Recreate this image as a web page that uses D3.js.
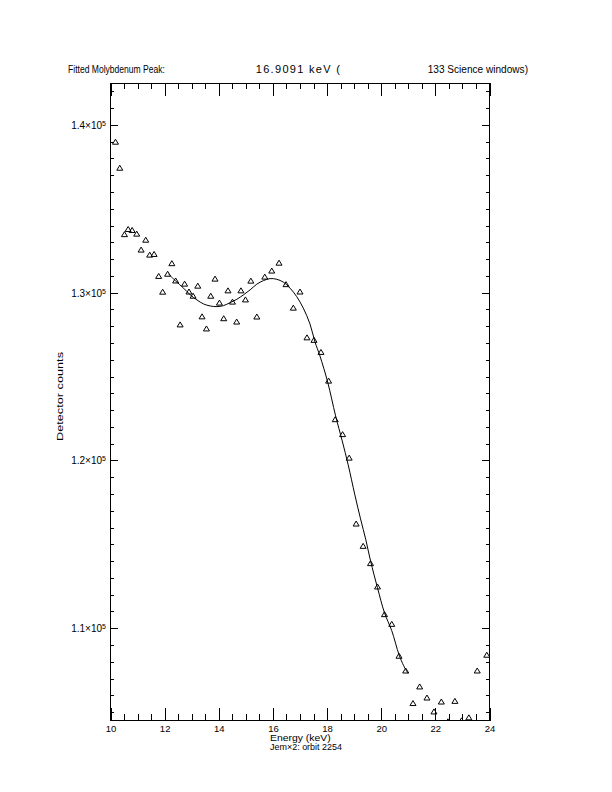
<!DOCTYPE html>
<html>
<head>
<meta charset="utf-8">
<script src="https://cdn.jsdelivr.net/npm/d3@7.9.0/dist/d3.min.js"></script>
<style>
  html, body { margin: 0; padding: 0; background: #fff; }
  svg { display: block; }
  text { font-family: "Liberation Sans", Arial, sans-serif; fill: #000; }
</style>
</head>
<body>
<svg id="chart" width="612" height="792"></svg>
<script>
// measured points (keV, detector counts)
const energy = [10.184, 10.343, 10.516, 10.652, 10.799, 10.969, 11.131, 11.301, 11.448, 11.610,
  11.780, 11.927, 12.111, 12.266, 12.406, 12.572, 12.737, 12.899, 13.051, 13.224,
  13.382, 13.544, 13.703, 13.861, 14.023, 14.182, 14.340, 14.506, 14.661, 14.819,
  14.985, 15.184, 15.405, 15.699, 15.957, 16.226, 16.484, 16.753, 17.000, 17.258,
  17.516, 17.774, 18.057, 18.301, 18.573, 18.816, 19.074, 19.332, 19.605, 19.863,
  20.121, 20.390, 20.658, 20.905, 21.174, 21.421, 21.690, 21.948, 22.221, 22.464,
  22.722, 22.968, 23.237, 23.547, 23.900];
const counts = [139000, 137450, 133490, 133800, 133740, 133520, 132570, 133160, 132270, 132310,
  131000, 130060, 131130, 131760, 130730, 128110, 130540, 130070, 129820, 130420,
  128590, 127870, 129820, 130840, 129410, 128480, 130140, 129470, 128280, 130140,
  129600, 130720, 128580, 130960, 131320, 131790, 130510, 129110, 130070, 127340,
  127190, 126470, 124760, 122460, 121570, 120170, 116240, 114910, 113880, 112490,
  110840, 110260, 108360, 107480, 105540, 106530, 105870, 105040, 105630, 104450,
  105670, 104510, 104690, 107480, 108420];

// fitted curve
const fitEnergy = [12.155, 12.406, 12.700, 12.947, 13.194, 13.437, 13.684, 13.931, 14.174, 14.421,
  14.668, 14.911, 15.158, 15.405, 15.648, 15.895, 16.142, 16.385, 16.632, 16.878,
  17.122, 17.368, 17.553, 17.737, 18.021, 18.315, 18.559, 18.780, 19.026, 19.236,
  19.432, 19.605, 19.863, 20.121, 20.390, 20.658, 20.831, 20.990];
const fitCounts = [131090, 130700, 130270, 129870, 129570, 129330, 129210, 129170, 129230, 129410,
  129610, 129870, 130170, 130510, 130720, 130840, 130800, 130630, 130270, 129770,
  129080, 128140, 127070, 126230, 124680, 122660, 121170, 119740, 117950, 116520,
  115270, 114020, 112410, 110920, 109850, 108420, 107760, 107310];

const xTicks = [10, 12, 14, 16, 18, 20, 22, 24];
const yTicks = [110000, 120000, 130000, 140000];
const yTickLabels = ["1.1", "1.2", "1.3", "1.4"];

const plotLeft = 110.5, plotRight = 489.5, plotTop = 83, plotBottom = 720.5;

const x = d3.scaleLinear().domain([10, 24]).range([plotLeft, plotRight]);
const y = d3.scaleLinear().domain([104500, 142500]).range([plotBottom, plotTop]);

const svg = d3.select('#chart');
svg.append('rect').attr('width', 612).attr('height', 792).attr('fill', '#fff');

svg.append('clipPath').attr('id', 'plotClip')
  .append('rect')
  .attr('x', plotLeft).attr('y', plotTop)
  .attr('width', plotRight - plotLeft).attr('height', plotBottom - plotTop);

const xMinor = d3.range(10, 24.001, 0.5).filter(v => v % 2 !== 0);
const yMinor = d3.range(105000, 142001, 1000).filter(v => v % 10000 !== 0);

function drawAxis(axis, tx, ty) {
  const g = svg.append('g')
    .attr('transform', `translate(${tx},${ty})`)
    .attr('shape-rendering', 'crispEdges')
    .call(axis);
  g.select('.domain').remove();
  return g;
}

// bottom axis
const xb = drawAxis(d3.axisBottom(x).tickValues(xTicks).tickSizeInner(-12.7).tickSizeOuter(0)
  .tickPadding(4.5).tickFormat(d3.format('d')), 0, plotBottom);
xb.selectAll('text').attr('font-size', 9.5).attr('font-family', null);
drawAxis(d3.axisBottom(x).tickValues(xMinor).tickSizeInner(-6.3).tickSizeOuter(0).tickFormat(''), 0, plotBottom);

// top axis
drawAxis(d3.axisTop(x).tickValues(xTicks).tickSizeInner(-12.7).tickSizeOuter(0).tickFormat(''), 0, plotTop);
drawAxis(d3.axisTop(x).tickValues(xMinor).tickSizeInner(-6.3).tickSizeOuter(0).tickFormat(''), 0, plotTop);

// left axis
const yl = drawAxis(d3.axisLeft(y).tickValues(yTicks).tickSizeInner(-7.6).tickSizeOuter(0)
  .tickPadding(4.5).tickFormat(''), plotLeft, 0);
yl.selectAll('.tick text')
  .attr('font-size', 10)
  .attr('font-family', null)
  .attr('dy', '0.35em')
  .each(function(d, i) {
    const t = d3.select(this);
    t.append('tspan').text(yTickLabels[i] + '\u00d710');
    t.append('tspan').attr('font-size', 7).attr('dy', '-0.45em').text('5');
  });
drawAxis(d3.axisLeft(y).tickValues(yMinor).tickSizeInner(-3.8).tickSizeOuter(0).tickFormat(''), plotLeft, 0);

// right axis
drawAxis(d3.axisRight(y).tickValues(yTicks).tickSizeInner(-7.6).tickSizeOuter(0).tickFormat(''), plotRight, 0);
drawAxis(d3.axisRight(y).tickValues(yMinor).tickSizeInner(-3.8).tickSizeOuter(0).tickFormat(''), plotRight, 0);

// frame
svg.append('rect')
  .attr('x', plotLeft).attr('y', plotTop)
  .attr('width', plotRight - plotLeft).attr('height', plotBottom - plotTop)
  .attr('fill', 'none').attr('stroke', '#000').attr('stroke-width', 1)
  .attr('shape-rendering', 'crispEdges');

const plot = svg.append('g').attr('clip-path', 'url(#plotClip)');

// fit line
const fit = fitEnergy.map((e, i) => [e, fitCounts[i]]);
plot.append('path')
  .datum(fit)
  .attr('fill', 'none')
  .attr('stroke', '#000')
  .attr('stroke-width', 1)
  .attr('d', d3.line().x(d => x(d[0])).y(d => y(d[1])).curve(d3.curveCatmullRom.alpha(0.5)));

// triangles
const pts = energy.map((e, i) => ({ e, c: counts[i] }));
plot.selectAll('path.pt')
  .data(pts)
  .join('path')
  .attr('class', 'pt')
  .attr('transform', d => `translate(${x(d.e)},${y(d.c)})`)
  .attr('d', 'M-3,2.5L0,-2.5L3,2.5Z')
  .attr('fill', 'none')
  .attr('stroke', '#000')
  .attr('stroke-width', 1);

// title
const title = [
  { s: 'Fitted Molybdenum Peak:', x: 68, w: 97, adj: 'spacingAndGlyphs' },
  { s: '16.9091 keV (', x: 255.7, w: 84.3, adj: 'spacing' },
  { s: '133 Science windows)', x: 427.7, w: 100.3, adj: 'spacingAndGlyphs' }
];
svg.selectAll('text.title')
  .data(title)
  .join('text')
  .attr('class', 'title')
  .attr('x', d => d.x)
  .attr('y', 72.5)
  .attr('font-size', 11)
  .attr('textLength', d => d.w)
  .attr('lengthAdjust', d => d.adj)
  .text(d => d.s);

// axis titles
svg.append('text')
  .attr('x', 270).attr('y', 741)
  .attr('font-size', 8.5)
  .attr('textLength', 60.7).attr('lengthAdjust', 'spacingAndGlyphs')
  .text('Energy (keV)');

svg.append('text')
  .attr('x', 270).attr('y', 750)
  .attr('font-size', 8.5)
  .attr('textLength', 72).attr('lengthAdjust', 'spacingAndGlyphs')
  .text('Jem\u00d72: orbit 2254');

svg.append('text')
  .attr('transform', 'translate(63,396.5) rotate(-90)')
  .attr('text-anchor', 'middle')
  .attr('font-size', 9.5)
  .attr('textLength', 89).attr('lengthAdjust', 'spacingAndGlyphs')
  .text('Detector counts');
</script>
</body>
</html>
